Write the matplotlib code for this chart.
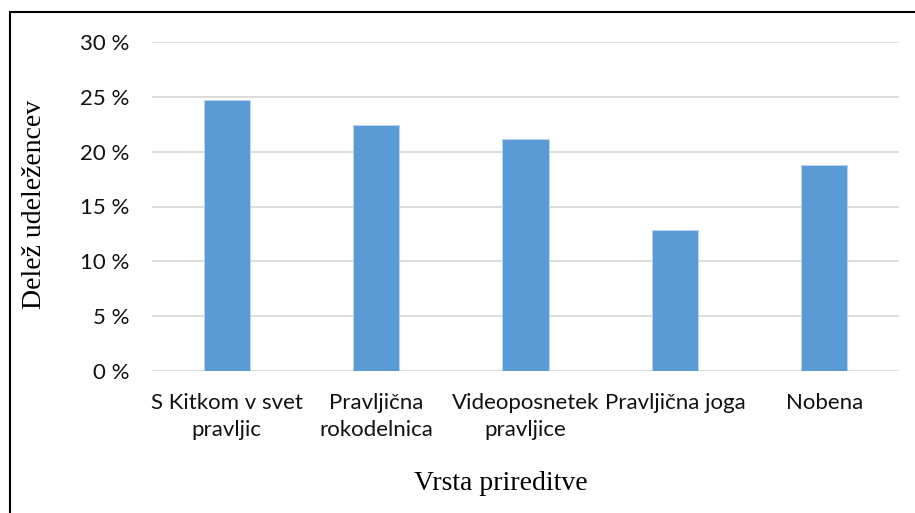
# -*- coding: utf-8 -*-
"""Excel-style bar chart: Delež udeležencev po vrsti prireditve."""
import matplotlib
matplotlib.use('Agg')
import matplotlib.pyplot as plt
from matplotlib.patches import Rectangle
from matplotlib.ticker import FuncFormatter

categories = ['S Kitkom v svet\npravljic', 'Pravljična\nrokodelnica', 'Videoposnetek\npravljice',
              'Pravljična joga', 'Nobena']
shares = [24.7, 22.4, 21.2, 12.9, 18.8]
y_ticks = [0, 5, 10, 15, 20, 25, 30]

W, H = 915, 513
fig = plt.figure(figsize=(W / 100, H / 100), dpi=100)
ax = fig.add_axes([152 / W, 1 - 371 / H, (899 - 152) / W, (371 - 42) / H])

x = range(len(categories))
ax.bar(x, shares, width=0.31, color='#5B9BD5', edgecolor='#BDD7EE', linewidth=0.6, zorder=3)
ax.set_xlim(-0.5, len(categories) - 0.5)
ax.set_ylim(0, 30)
ax.set_yticks(y_ticks)
ax.yaxis.set_major_formatter(FuncFormatter(lambda v, p: f'{v:.0f} %'))
ax.set_xticks(list(x))
ax.set_xticklabels(categories, linespacing=1.4)
ax.grid(axis='y', color='#D9D9D9', linewidth=1.3, zorder=0)
for s in ax.spines.values():
    s.set_visible(False)
ax.tick_params(length=0, labelsize=16, colors='#111111')
ax.tick_params(axis='x', pad=16)
ax.tick_params(axis='y', pad=16)
for lab in ax.get_xticklabels() + ax.get_yticklabels():
    lab.set_family('Lato')

fig.text(501 / W, 1 - 483 / H, 'Vrsta prireditve', ha='center', va='center',
         family='Liberation Serif', fontsize=20)
fig.text(35 / W, 1 - 204 / H, 'Delež udeležencev', ha='center', va='center', rotation=90,
         family='Liberation Serif', fontsize=20)

# chart frame (cut off at right and bottom in the original)
fig.patches.append(Rectangle((9.5 / W, -0.1), 1.2, 1 - 12.5 / H + 0.1, transform=fig.transFigure,
                             fill=False, edgecolor='black', linewidth=1.5))

fig.savefig('out.png', dpi=100)
